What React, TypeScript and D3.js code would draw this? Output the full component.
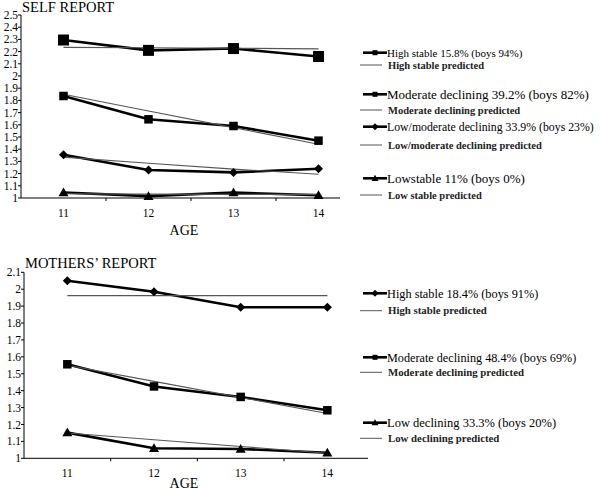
import React from "react";
import * as d3 from "d3";

const ages = ["11", "12", "13", "14"];

// SELF REPORT
const selfTicks = [1, 1.1, 1.2, 1.3, 1.4, 1.5, 1.6, 1.7, 1.8, 1.9, 2, 2.1, 2.2, 2.3, 2.4, 2.5];
const selfHighStable = [2.295, 2.21, 2.225, 2.16];
const selfHighStablePred = [2.235, 2.232, 2.228, 2.222];
const selfModDecl = [1.836, 1.645, 1.59, 1.47];
const selfModDeclPred = [1.85, 1.713, 1.577, 1.44];
const selfLowModDecl = [1.355, 1.23, 1.21, 1.24];
const selfLowModDeclPred = [1.335, 1.285, 1.237, 1.195];
const selfLowStable = [1.045, 1.015, 1.045, 1.022];
const selfLowStablePred = [1.035, 1.032, 1.03, 1.03];

const selfLegend = [
  "High stable 15.8% (boys 94%)",
  "High stable predicted",
  "Moderate declining 39.2% (boys 82%)",
  "Moderate declining predicted",
  "Low/moderate declining 33.9% (boys 23%)",
  "Low/moderate declining predicted",
  "Lowstable 11% (boys 0%)",
  "Low stable predicted",
];

// MOTHERS' REPORT
const momTicks = [1, 1.1, 1.2, 1.3, 1.4, 1.5, 1.6, 1.7, 1.8, 1.9, 2, 2.1];
const momHighStable = [2.05, 1.985, 1.893, 1.893];
const momHighStablePred = [1.962, 1.962, 1.962, 1.962];
const momModDecl = [1.556, 1.425, 1.363, 1.284];
const momModDeclPred = [1.55, 1.455, 1.36, 1.265];
const momLowDecl = [1.152, 1.059, 1.055, 1.033];
const momLowDeclPred = [1.15, 1.11, 1.07, 1.03];

const momLegend = [
  "High stable 18.4% (boys 91%)",
  "High stable predicted",
  "Moderate declining 48.4% (boys 69%)",
  "Moderate declining predicted",
  "Low declining 33.3% (boys 20%)",
  "Low declining predicted",
];

const FONT = "Liberation Serif";
const fmt = (v: number) => String(Math.round(v * 10) / 10);

type MarkerKind = "square" | "bigsquare" | "diamond" | "triangle";

function Marker({ kind, x, y, s }: { kind: MarkerKind; x: number; y: number; s?: number }) {
  if (kind === "square" || kind === "bigsquare") {
    const size = s ?? (kind === "bigsquare" ? 11 : 8.5);
    return <rect x={x - size / 2} y={y - size / 2} width={size} height={size} fill="#000" />;
  }
  if (kind === "diamond") {
    const r = s ?? 4.5;
    return <path d={`M${x},${y - r}L${x + r},${y}L${x},${y + r}L${x - r},${y}Z`} fill="#000" />;
  }
  const r = s ?? 5;
  return <path d={`M${x},${y - r}L${x + r},${y + r * 0.75}L${x - r},${y + r * 0.75}Z`} fill="#000" />;
}

type Series = { obs: number[]; pred: number[]; kind: MarkerKind };

function Panel({
  title, titleY, x0, x1, axisEnd, yTop, yBot, ticks, series, tickLabelY, ageY,
}: {
  title: string; titleY: number; x0: number; x1: number; axisEnd: number; yTop: number; yBot: number;
  ticks: number[]; series: Series[]; tickLabelY: number; ageY: number;
}) {
  const x = d3.scaleBand<string>().domain(ages).range([x0, x1]).padding(0);
  const y = d3.scaleLinear().domain([ticks[0], ticks[ticks.length - 1]]).range([yBot, yTop]);
  const cx = (a: string) => (x(a) as number) + x.bandwidth() / 2;
  const line = d3.line<number>().x((_, i) => cx(ages[i])).y((v) => y(v));
  const ts = { fontFamily: FONT };
  return (
    <g style={ts}>
      <text x={x0 + 1} y={titleY} fontSize={14.5} fill="#000" style={ts}>{title}</text>
      <line x1={x0} x2={x0} y1={yTop} y2={yBot} stroke="#000" strokeWidth={1} />
      <line x1={x0} x2={axisEnd} y1={yBot} y2={yBot} stroke="#000" strokeWidth={1} />
      {ticks.map((t) => (
        <g key={t}>
          <line x1={x0 - 3} x2={x0} y1={y(t)} y2={y(t)} stroke="#000" />
          <text x={x0 - 3} y={y(t)} dy="0.35em" textAnchor="end" fontSize={11.5} fill="#000" style={ts}>{fmt(t)}</text>
        </g>
      ))}
      {ages.slice(1).map((a) => (
        <line key={a} x1={x(a) as number} x2={x(a) as number} y1={yBot} y2={yBot + 3} stroke="#000" />
      ))}
      {ages.map((a) => (
        <text key={a} x={cx(a)} y={tickLabelY} textAnchor="middle" fontSize={11.5} fill="#000" style={ts}>{a}</text>
      ))}
      <text x={184} y={ageY} textAnchor="middle" fontSize={14} fill="#000" style={ts}>AGE</text>
      {series.map((s, i) => (
        <g key={i}>
          <path d={line(s.obs) as string} fill="none" stroke="#000" strokeWidth={2.6} />
          <path d={line(s.pred) as string} fill="none" stroke="#555" strokeWidth={1.1} />
          {s.obs.map((v, j) => (
            <Marker key={j} kind={s.kind} x={cx(ages[j])} y={y(v)} />
          ))}
        </g>
      ))}
    </g>
  );
}

function LegendItem({ label, y, predicted, kind, fontSize }: { label: string; y: number; predicted: boolean; kind: MarkerKind; fontSize: number }) {
  const ts = { fontFamily: FONT };
  if (predicted) {
    return (
      <g>
        <line x1={360} x2={382} y1={y} y2={y} stroke="#555" strokeWidth={1} />
        <text x={388} y={y} dy="0.35em" fontSize={fontSize} fontWeight="bold" fill="#222" style={ts}>{label}</text>
      </g>
    );
  }
  return (
    <g>
      <line x1={363} x2={387} y1={y} y2={y} stroke="#000" strokeWidth={2.6} />
      <Marker kind={kind} x={375} y={y} s={kind === "triangle" ? 3.5 : kind === "diamond" ? 3.5 : 5} />
      <text x={387} y={y} dy="0.35em" fontSize={fontSize} fill="#000" style={ts}>{label}</text>
    </g>
  );
}

export default function App() {
  const selfSeries: Series[] = [
    { obs: selfHighStable, pred: selfHighStablePred, kind: "bigsquare" },
    { obs: selfModDecl, pred: selfModDeclPred, kind: "square" },
    { obs: selfLowModDecl, pred: selfLowModDeclPred, kind: "diamond" },
    { obs: selfLowStable, pred: selfLowStablePred, kind: "triangle" },
  ];
  const momSeries: Series[] = [
    { obs: momHighStable, pred: momHighStablePred, kind: "diamond" },
    { obs: momModDecl, pred: momModDeclPred, kind: "square" },
    { obs: momLowDecl, pred: momLowDeclPred, kind: "triangle" },
  ];
  const selfLegY = [52.7, 65, 94.3, 110, 126.7, 145, 178.3, 195];
  const selfLegKinds: MarkerKind[] = ["square", "square", "square", "square", "diamond", "diamond", "triangle", "triangle"];
  const selfLegSize = [11, 10.5, 13, 10.5, 11.8, 10.5, 13, 10.5];
  const momLegY = [293.3, 310.7, 357.3, 372.3, 422.7, 438.3];
  const momLegKinds: MarkerKind[] = ["diamond", "diamond", "square", "square", "triangle", "triangle"];
  const momLegSize = [12.3, 10.8, 12.2, 10.8, 12.5, 10.8];
  return (
    <svg width={600} height={490} style={{ position: "absolute", left: 0, top: 0, background: "#fff" }}>
      <rect width={600} height={490} fill="#fff" />
      <Panel title="SELF REPORT" titleY={12} x0={21} x1={361} axisEnd={340} yTop={15} yBot={198}
        ticks={selfTicks} series={selfSeries} tickLabelY={217} ageY={235} />
      <Panel title="MOTHERS’ REPORT" titleY={268} x0={24} x1={370.7} axisEnd={368} yTop={272.3} yBot={458.3}
        ticks={momTicks} series={momSeries} tickLabelY={477} ageY={488} />
      {selfLegend.map((l, i) => (
        <LegendItem key={l} label={l} y={selfLegY[i]} predicted={i % 2 === 1} kind={selfLegKinds[i]} fontSize={selfLegSize[i]} />
      ))}
      {momLegend.map((l, i) => (
        <LegendItem key={l} label={l} y={momLegY[i]} predicted={i % 2 === 1} kind={momLegKinds[i]} fontSize={momLegSize[i]} />
      ))}
    </svg>
  );
}
